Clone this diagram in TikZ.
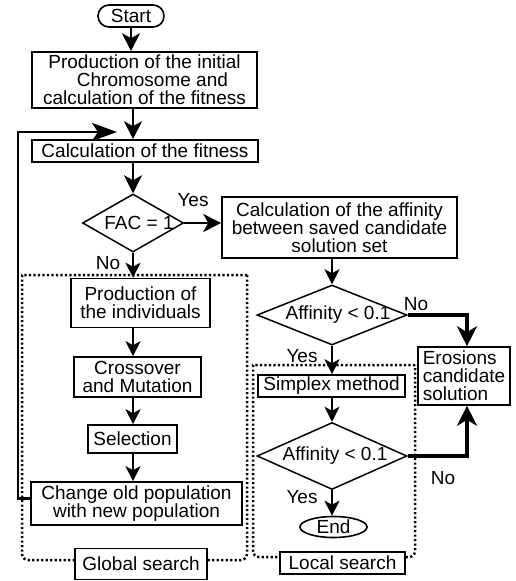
\documentclass[tikz,border=0pt]{standalone}
\usepackage{fontspec}
\setmainfont{Liberation Sans}
\usetikzlibrary{arrows.meta,shapes.geometric}
\begin{document}
\begin{tikzpicture}[x=1pt,y=-1pt,
  txt/.style={font=\fontsize{19}{18}\selectfont},
  box/.style={txt,draw,line width=1.6pt,inner sep=0pt,align=center,fill=white},
  dia/.style={draw,line width=1.5pt,shape=diamond,inner sep=0pt},
  arr/.style={line width=1.6pt,-{Stealth[length=15pt,width=15pt,inset=4pt]}},
  bigarr/.style={line width=1.6pt,-{Stealth[length=18pt,width=18pt,inset=5pt]}},
  thk/.style={line width=3.4pt,-{Stealth[length=20pt,width=20pt,inset=6pt]}},
  loopline/.style={line width=2.8pt,-{Stealth[length=25pt,width=18pt,inset=6pt]}},
  dotbox/.style={line width=2.5pt,dash pattern=on 2.2pt off 2.3pt},
  lbl/.style={txt,inner sep=0pt}]
\useasboundingbox (0,0) rectangle (515,581);

% dotted regions
\draw[dotbox] (247,275) -- (22,275) [rounded corners=6pt] -- (22,560) -- (247,560) [sharp corners] -- cycle;
\draw[dotbox] (415,365) -- (253,365) [rounded corners=6pt] -- (253,557) -- (415,557) [sharp corners] -- cycle;

% nodes
\node[box,rounded corners=11pt,minimum width=66pt,minimum height=22pt] (start) at (131,16) {Start};
\node[box,minimum width=225pt,minimum height=56pt] (b1) at (144.5,80) {Production of the initial\\\ \ \ Chromosome and\\calculation of the fitness};
\node[box,minimum width=226pt,minimum height=22pt] (b2) at (145,151) {Calculation of the fitness};
\node[dia,minimum width=101pt,minimum height=58pt,label={[txt,xshift=6pt]center:FAC = 1}] (fac) at (133,223) {};
\node[box,minimum width=235pt,minimum height=61pt] (aff) at (339.5,227.5) {Calculation of the affinity\\between saved candidate\\solution set};
\node[dia,minimum width=150pt,minimum height=60pt,label={[txt,xshift=6pt]center:Affinity < 0.1}] (d1) at (332,315) {};
\node[box,align=left,minimum width=92pt,minimum height=58pt] (ero) at (464,376) {Erosions\\candidate\\solution};
\node[box,minimum width=139pt,minimum height=49pt] (p) at (140.5,303) {Production of\\the individuals};
\node[box,minimum width=127pt,minimum height=40pt] (cm) at (137.5,377) {Crossover\\and Mutation};
\node[box,minimum width=89pt,minimum height=28pt] (sel) at (132.5,439) {Selection};
\node[box,minimum width=211pt,minimum height=43pt] (ch) at (136.5,503.5) {Change old population\\with new population};
\node[box,minimum width=132pt,minimum height=31pt] (gs) at (141,564) {Global search};
\node[box,minimum width=147pt,minimum height=22pt] (sim) at (331.5,386) {Simplex method};
\node[dia,minimum width=150pt,minimum height=67pt,label={[txt,xshift=3pt]center:Affinity < 0.1}] (d2) at (332,456) {};
\node[box,shape=ellipse,minimum width=67pt,minimum height=21pt] (end) at (333.5,527) {End};
\node[box,minimum width=125pt,minimum height=22pt] (ls) at (342.5,563) {Local search};

% labels
\node[lbl] (yes1) at (193,200) {Yes};
\node[lbl] (no1) at (108,263) {No};
\node[lbl] (no2) at (416,304) {No};
\node[lbl] (yes2) at (302,356) {Yes};
\node[lbl] (yes3) at (302,497) {Yes};
\node[lbl] (no3) at (443,478) {No};

% connectors
\draw[bigarr] (start.south) -- (start.south |- b1.north);
\draw[bigarr] (b1.south -| fac) -- (b2.north -| fac);
\draw[bigarr] (b2.south -| fac) -- (fac.north);
\draw[arr] (fac.south) -- (fac.south |- p.north);
\draw[arr] (p.south -| fac) -- (cm.north -| fac);
\draw[arr] (cm.south -| fac) -- (sel.north -| fac);
\draw[arr] (sel.south -| fac) -- (ch.north -| fac);
\draw[bigarr] (fac.east) -- (fac.east -| aff.west);
\draw[arr] (aff.south -| d1) -- (d1.north);
\draw[arr] (d1.south) -- (d1.south |- sim.north);
\draw[arr] (sim.south -| d1) -- (d2.north);
\draw[arr] (d2.south) -- (d2.south |- end.north);
\draw[thk] (d1.east) -| ([xshift=3pt]ero.north);
\draw[thk] (d2.east) -| ([xshift=3pt]ero.south);

% feedback loop
\coordinate (lc) at (18,132);
\coordinate (lend) at (117,132);
\draw[loopline] ([yshift=5pt]ch.west) -| (lc) -- (lend);
\end{tikzpicture}
\end{document}
